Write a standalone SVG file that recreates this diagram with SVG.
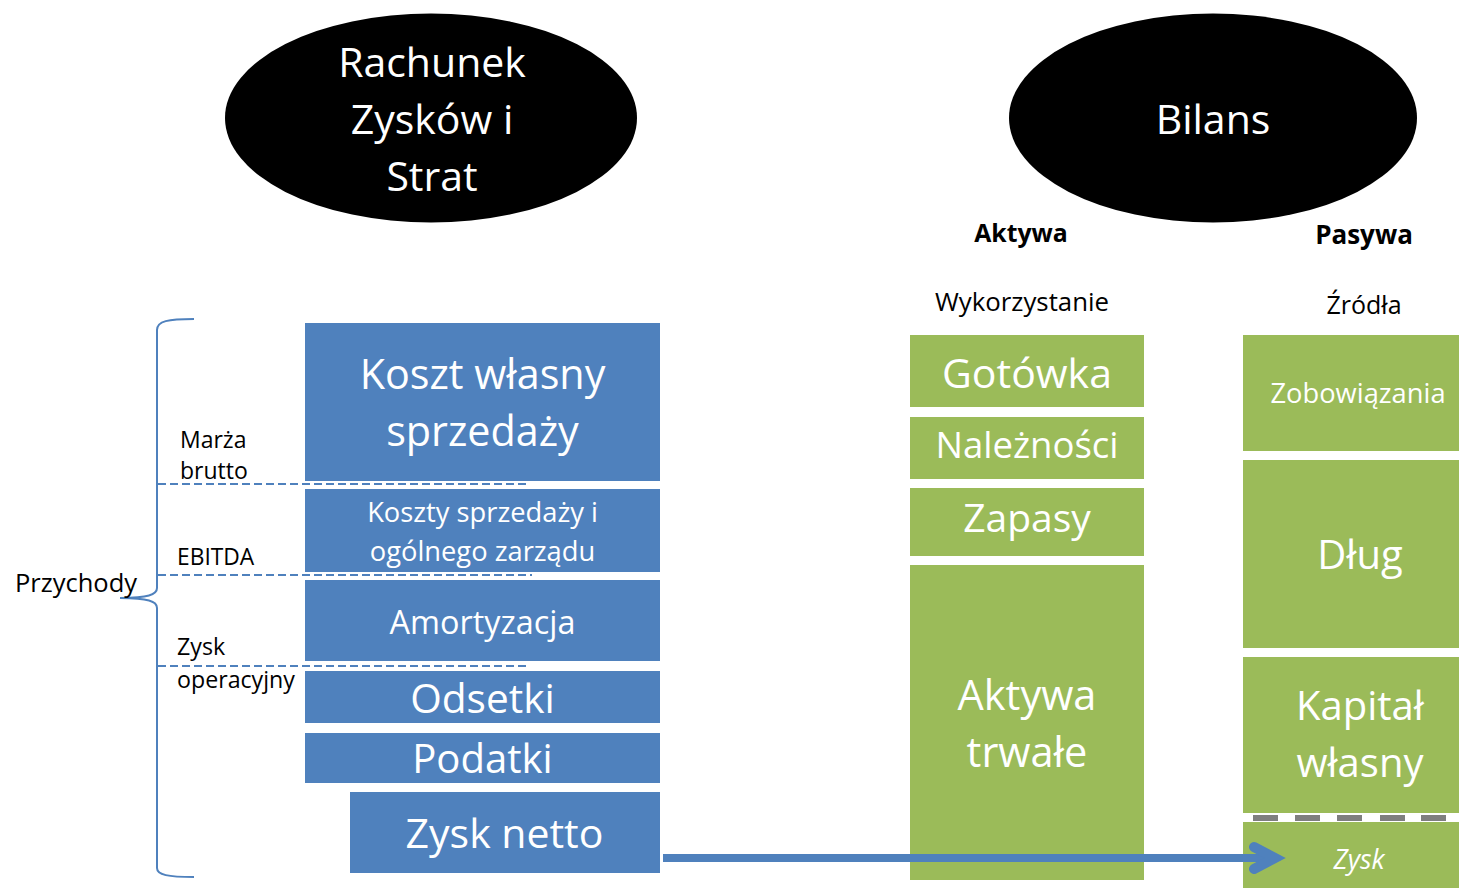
<svg xmlns="http://www.w3.org/2000/svg" width="1459" height="888" viewBox="0 0 1459 888">
  <style>
    text { font-family: "Open Sans", "Noto Sans", "Liberation Sans", sans-serif; }
    .blue { fill: #4F81BD; }
    .green { fill: #9BBB59; }
    .oval { fill: #000; }
    .w { fill: #fff; text-anchor: middle; }
    .k { fill: #000; }
    .mid { text-anchor: middle; }
    .bold { font-weight: bold; }
    .guide { stroke: #4F81BD; stroke-width: 2; stroke-dasharray: 8 4; fill: none; }
    .brace { stroke: #4F81BD; stroke-width: 2; fill: none; }
    .flow { stroke: #4F81BD; fill: none; }
  </style>

  <!-- Income statement header -->
  <g id="rzis-title">
    <ellipse class="oval" cx="431" cy="118" rx="206" ry="104.5"/>
    <text class="w" x="432" y="77" font-size="41">Rachunek</text>
    <text class="w" x="432" y="134" font-size="41">Zysków i</text>
    <text class="w" x="432" y="191" font-size="41">Strat</text>
  </g>

  <!-- Balance sheet header -->
  <g id="bilans-title">
    <ellipse class="oval" cx="1213" cy="118" rx="204" ry="104.5"/>
    <text class="w" x="1213" y="134" font-size="41">Bilans</text>
  </g>

  <g id="aktywa-head">
    <text class="k mid bold" x="1021" y="242" font-size="24.8">Aktywa</text>
    <text class="k mid" x="1022" y="311" font-size="25.8">Wykorzystanie</text>
  </g>
  <g id="pasywa-head">
    <text class="k mid bold" x="1364" y="244" font-size="26">Pasywa</text>
    <text class="k mid" x="1364" y="314" font-size="25">Źródła</text>
  </g>

  <!-- Income statement blocks -->
  <g id="koszt-wlasny">
    <rect class="blue" x="305" y="323" width="355" height="158"/>
    <text class="w" x="482.5" y="389" font-size="41.3">Koszt własny</text>
    <text class="w" x="482.5" y="446" font-size="41.3">sprzedaży</text>
  </g>
  <g id="koszty-sprzedazy">
    <rect class="blue" x="305" y="489" width="355" height="83"/>
    <text class="w" x="482.5" y="522" font-size="27.3">Koszty sprzedaży i</text>
    <text class="w" x="482.5" y="561" font-size="27.3">ogólnego zarządu</text>
  </g>
  <g id="amortyzacja">
    <rect class="blue" x="305" y="580" width="355" height="81"/>
    <text class="w" x="482.5" y="634" font-size="32.4">Amortyzacja</text>
  </g>
  <g id="odsetki">
    <rect class="blue" x="305" y="671" width="355" height="52"/>
    <text class="w" x="482.5" y="713" font-size="40.6">Odsetki</text>
  </g>
  <g id="podatki">
    <rect class="blue" x="305" y="733" width="355" height="50"/>
    <text class="w" x="482.5" y="773" font-size="40.1">Podatki</text>
  </g>
  <g id="zysk-netto">
    <rect class="blue" x="350" y="792" width="310" height="81"/>
    <text class="w" x="504.5" y="848" font-size="41">Zysk netto</text>
  </g>

  <!-- Margin labels and revenue brace -->
  <g id="przychody">
    <path class="brace" d="M194,319 C168,319 157,321 157,330 L157,588 C157,595 148,597.5 120,598 C148,598.5 157,601 157,608 L157,868 C157,875 168,877 194,877"/>
    <text class="k" x="15" y="592" font-size="25.5">Przychody</text>
  </g>
  <g id="marza-brutto">
    <text class="k" x="180" y="448" font-size="23">Marża</text>
    <text class="k" x="180" y="479" font-size="23">brutto</text>
  </g>
  <g id="ebitda">
    <text class="k" x="177" y="565" font-size="22.8">EBITDA</text>
  </g>
  <g id="zysk-operacyjny">
    <text class="k" x="177" y="655" font-size="23.2">Zysk</text>
    <text class="k" x="177" y="688" font-size="23.2">operacyjny</text>
  </g>

  <!-- Assets -->
  <g id="gotowka">
    <rect class="green" x="910" y="335" width="234" height="72"/>
    <text class="w" x="1027" y="388" font-size="41">Gotówka</text>
  </g>
  <g id="naleznosci">
    <rect class="green" x="910" y="417" width="234" height="62"/>
    <text class="w" x="1027" y="458" font-size="36.5">Należności</text>
  </g>
  <g id="zapasy">
    <rect class="green" x="910" y="488" width="234" height="68"/>
    <text class="w" x="1027" y="532" font-size="39">Zapasy</text>
  </g>
  <g id="aktywa-trwale">
    <rect class="green" x="910" y="565" width="234" height="315"/>
    <text class="w" x="1027" y="710" font-size="41.5">Aktywa</text>
    <text class="w" x="1027" y="767" font-size="41.5">trwałe</text>
  </g>

  <!-- Liabilities and equity -->
  <g id="zobowiazania">
    <rect class="green" x="1243" y="335" width="216" height="116"/>
    <text class="w" x="1358" y="403" font-size="27.3">Zobowiązania</text>
  </g>
  <g id="dlug">
    <rect class="green" x="1243" y="460" width="216" height="188"/>
    <text class="w" x="1360" y="569" font-size="40">Dług</text>
  </g>
  <g id="kapital-wlasny">
    <rect class="green" x="1243" y="657" width="216" height="156"/>
    <text class="w" x="1360" y="720" font-size="40">Kapitał</text>
    <text class="w" x="1360" y="777" font-size="40">własny</text>
  </g>
  <g id="zysk">
    <rect class="green" x="1243" y="822" width="216" height="66"/>
    <text class="w" x="1359" y="869" font-size="26.7" font-style="italic">Zysk</text>
  </g>
  <g id="zysk-separator" fill="#7F7F7F">
    <rect x="1253" y="815" width="25" height="6"/>
    <rect x="1295" y="815" width="25" height="6"/>
    <rect x="1337" y="815" width="25" height="6"/>
    <rect x="1380" y="815" width="25" height="6"/>
    <rect x="1421" y="815" width="25" height="6"/>
  </g>

  <!-- Connectors -->
  <g id="connectors">
    <line class="guide" x1="158" y1="484" x2="530" y2="484"/>
    <line class="guide" x1="158" y1="575" x2="532" y2="575"/>
    <line class="guide" x1="158" y1="666" x2="530" y2="666"/>
    <line class="flow" x1="663" y1="858" x2="1274" y2="858" stroke-width="8"/>
    <polyline class="flow" points="1254,847 1275,858 1254,869" stroke-width="10" stroke-linecap="round" stroke-linejoin="miter"/>
  </g>
</svg>
